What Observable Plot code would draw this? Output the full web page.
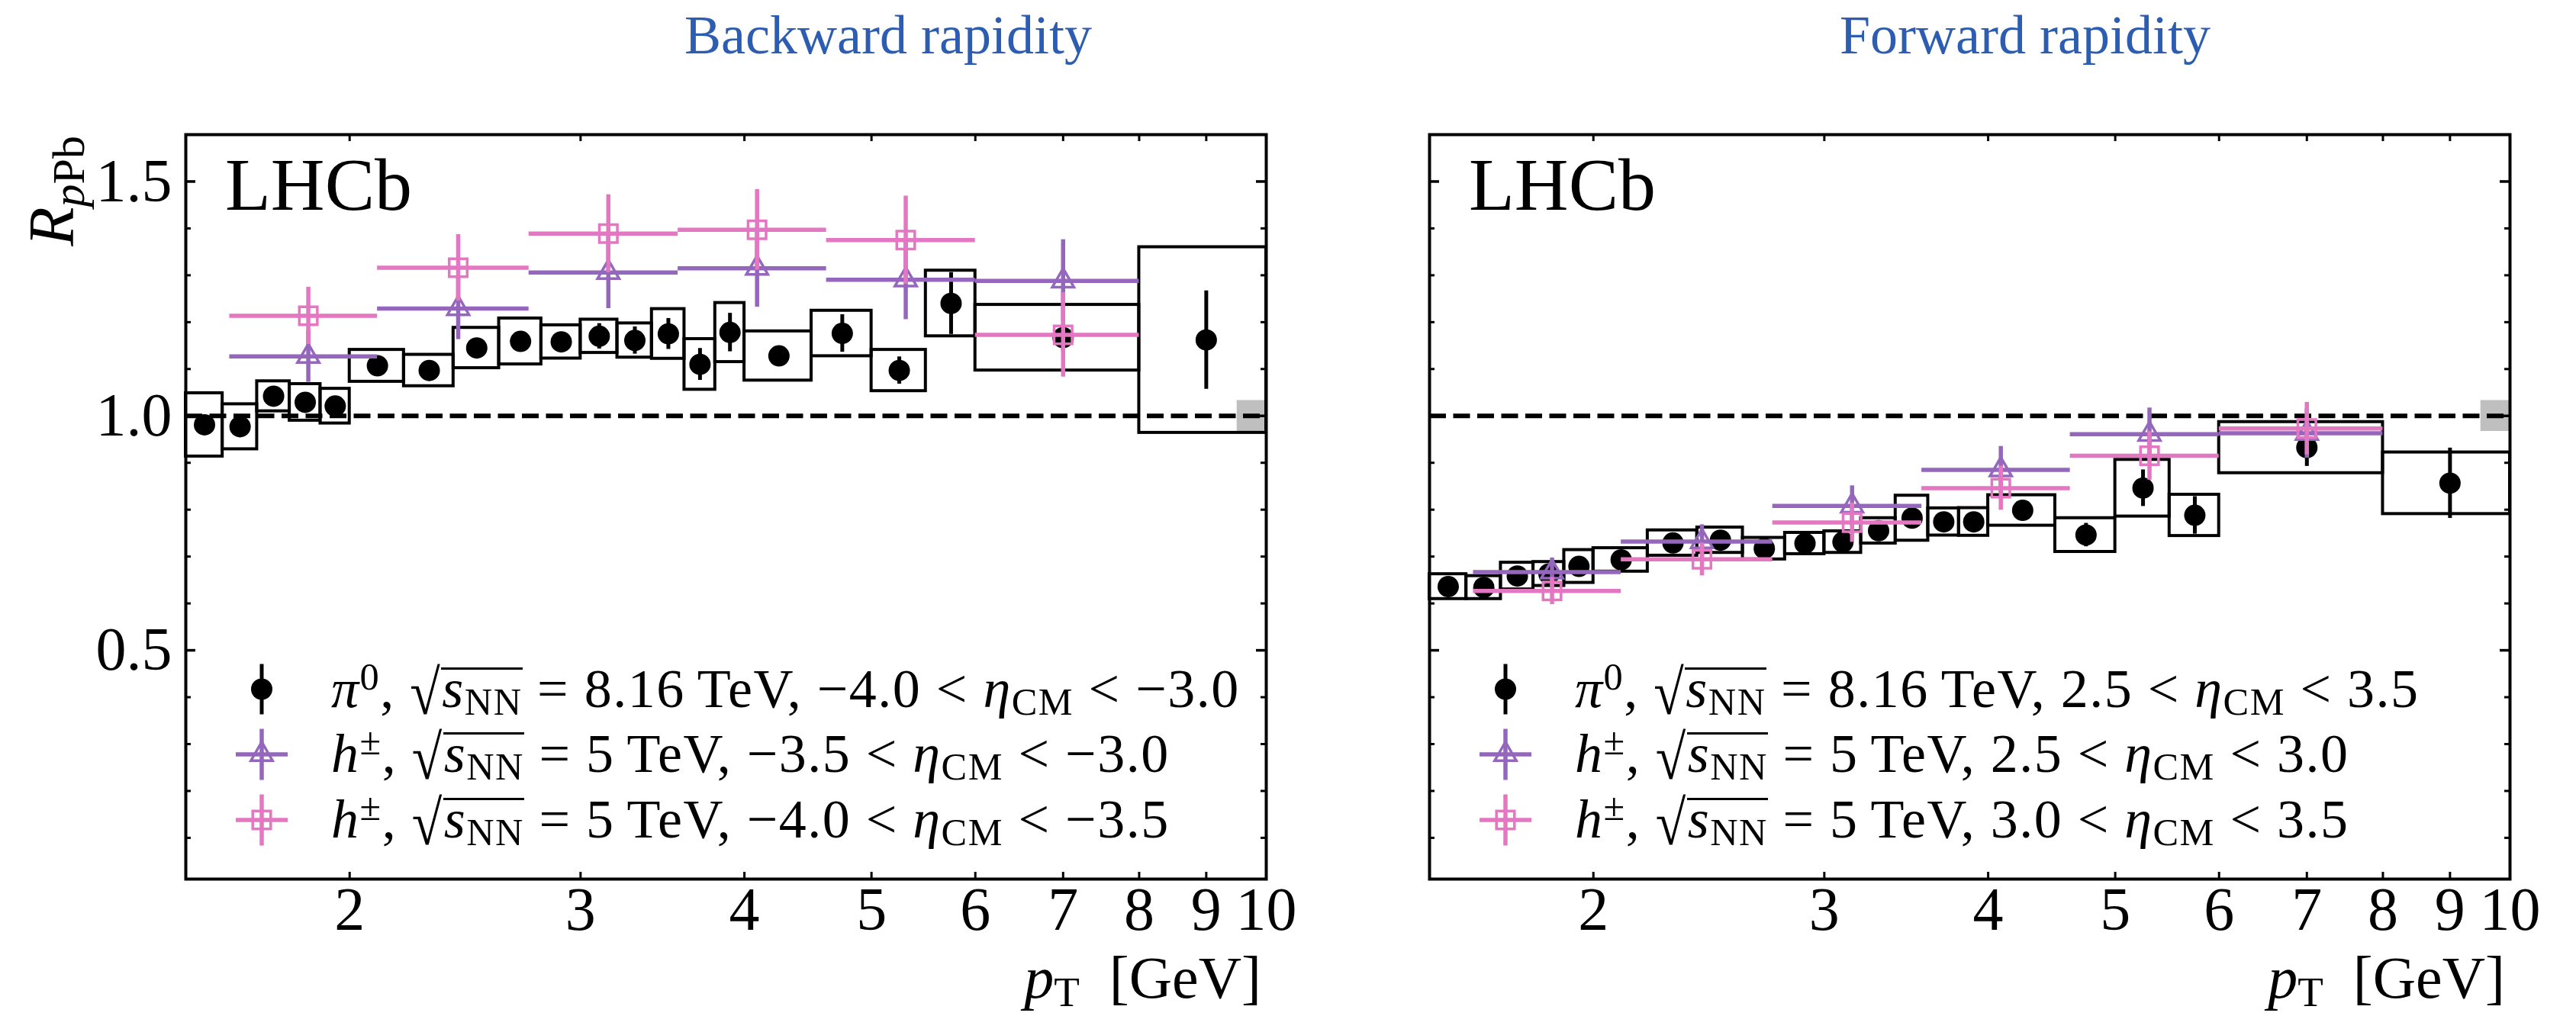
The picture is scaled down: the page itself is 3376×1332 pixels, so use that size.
<!DOCTYPE html>
<html><head><meta charset="utf-8">
<script src="https://cdn.jsdelivr.net/npm/d3@7"></script>
<script src="https://cdn.jsdelivr.net/npm/@observablehq/plot@0.6"></script>
<style>
body{margin:0;background:#fff;}
#page{position:relative;width:3376px;height:1332px;overflow:hidden;background:#fff;font-family:"Liberation Serif",serif;}
.leg{position:absolute;font-size:72px;letter-spacing:1.5px;white-space:nowrap;line-height:1;color:#000;font-family:"Liberation Serif",serif;}
.sup{position:relative;top:-0.45em;font-size:0.7em;}
.sub{position:relative;top:0.2em;font-size:0.7em;}
.rad{display:inline-block;transform:scaleY(1.15) translateY(0.06em);}
.ov{display:inline-block;line-height:0.7;border-top:3px solid #000;padding-left:1px;}
</style></head><body><div id="page"></div>
<script>
// ---------------- data ----------------
const pi0Edges = [1.5,1.6,1.7,1.8,1.9,2.0,2.2,2.4,2.6,2.8,3.0,3.2,3.4,3.6,3.8,4.0,4.5,5.0,5.5,6.0,8.0,10.0];
const pi0BackwardValue = [0.981,0.977,1.042,1.029,1.021,1.107,1.097,1.145,1.159,1.158,1.170,1.161,1.175,1.110,1.178,1.128,1.176,1.097,1.240,1.167,1.162];
const pi0BackwardStat  = [0.012,0.012,0.012,0.012,0.012,0.013,0.013,0.014,0.014,0.015,0.027,0.029,0.033,0.034,0.041,0.019,0.040,0.029,0.066,0.030,0.105];
const pi0BackwardSyst  = [0.0675,0.048,0.032,0.039,0.037,0.034,0.0335,0.043,0.049,0.0355,0.0355,0.0365,0.053,0.054,0.063,0.0525,0.0485,0.044,0.070,0.070,0.198];
const pi0ForwardValue = [0.636,0.634,0.6585,0.663,0.679,0.693,0.729,0.735,0.717,0.728,0.731,0.755,0.782,0.774,0.774,0.7985,0.746,0.846,0.788,0.9325,0.8565];
const pi0ForwardStat  = [0.010,0.010,0.010,0.010,0.011,0.011,0.012,0.012,0.012,0.013,0.013,0.014,0.015,0.015,0.016,0.016,0.025,0.039,0.040,0.040,0.075];
const pi0ForwardSyst  = [0.0265,0.0245,0.0285,0.0255,0.035,0.025,0.027,0.027,0.023,0.0227,0.023,0.027,0.048,0.029,0.0295,0.0325,0.036,0.0605,0.044,0.0545,0.0657];

const hEdges = [1.62,2.1,2.74,3.56,4.62,6.0,8.0];
const hBackwardAValue = [1.127,1.229,1.306,1.315,1.2905,1.288];   // -3.5 < eta < -3.0
const hBackwardAErr   = [0.055,0.066,0.077,0.083,0.085,0.088];
const hBackwardBValue = [1.2135,1.316,1.389,1.397,1.375,1.173];   // -4.0 < eta < -3.5
const hBackwardBErr   = [0.061,0.071,0.083,0.086,0.094,0.090];
const hForwardAValue  = [0.667,0.732,0.808,0.885,0.961,0.963];    // 2.5 < eta < 3.0
const hForwardAErr    = [0.030,0.036,0.043,0.050,0.056,0.053];
const hForwardBValue  = [0.6265,0.694,0.7725,0.846,0.915,0.973];  // 3.0 < eta < 3.5
const hForwardBErr    = [0.029,0.035,0.042,0.047,0.052,0.056];

const normBand = [9.5, 10.0];
const normUncertainty = 0.033;

const xTickValues = [2,3,4,5,6,7,8,9,10];
const yTickLabels = [0.5,1.0,1.5];
const yMinorTicks = [0.1,0.2,0.3,0.4,0.6,0.7,0.8,0.9,1.1,1.2,1.3,1.4];

const titles = ["Backward rapidity","Forward rapidity"];
const legendParticles = [["π","0"],["h","±"],["h","±"]];
const legendEnergies = ["8.16","5","5"];
const legendEtaBackward = [["−4.0","−3.0"],["−3.5","−3.0"],["−4.0","−3.5"]];
const legendEtaForward  = [["2.5","3.5"],["2.5","3.0"],["3.0","3.5"]];

// ---------------- tables ----------------
const pi0Table = (vals, stat, syst) => vals.map((v,i)=>({lo:pi0Edges[i], hi:pi0Edges[i+1], x:(pi0Edges[i]+pi0Edges[i+1])/2, v, stat:stat[i], syst:syst[i]}));
const hTable = (vals, err) => vals.map((v,i)=>({lo:hEdges[i], hi:hEdges[i+1], x:(hEdges[i]+hEdges[i+1])/2, v, err:err[i]}));
const normTable = [{lo:normBand[0], hi:normBand[1], u:normUncertainty}];

const PURPLE = "#9467bd", PINK = "#e377c2", TITLE = "#2d5db0";
const H = 1332, MT = 176, MB = 180;

function hMarks(data, color, symbol, r){
  return [
    Plot.ruleY(data, {y:"v", x1:"lo", x2:"hi", stroke:color, strokeWidth:5.5}),
    Plot.ruleX(data, {x:"x", y1:d=>d.v-d.err, y2:d=>d.v+d.err, stroke:color, strokeWidth:5.5}),
    Plot.dot(data, {x:"x", y:"v", symbol, r, fill:"none", stroke:color, strokeWidth:3.5})
  ];
}

function panel(cfg){
  const frameW = cfg.width - cfg.ml - cfg.mr, frameH = H - MT - MB;
  const pi0 = cfg.pi0;
  return Plot.plot({
    width: cfg.width, height: H,
    marginLeft: cfg.ml, marginRight: cfg.mr, marginTop: MT, marginBottom: MB,
    x: {type:"log", domain:[1.5,10]},
    y: {domain:[0.012,1.6], axis: cfg.showY ? undefined : null},
    style: {fontFamily:"Liberation Serif, serif", color:"black", background:"transparent", overflow:"visible"},
    marks: [
      Plot.rect(normTable, {x1:"lo", x2:"hi", y1:d=>1-d.u, y2:d=>1+d.u, fill:"#bfbfbf"}),
      Plot.ruleY([1], {stroke:"black", strokeWidth:6, strokeDasharray:"22,9.5"}),
      Plot.rect(pi0, {x1:"lo", x2:"hi", y1:d=>d.v-d.syst, y2:d=>d.v+d.syst, fill:"none", stroke:"black", strokeWidth:4}),
      Plot.ruleX(pi0, {x:"x", y1:d=>d.v-d.stat, y2:d=>d.v+d.stat, stroke:"black", strokeWidth:5}),
      Plot.dot(pi0, {x:"x", y:"v", r:14, fill:"black"}),
      ...hMarks(cfg.hA, PURPLE, "triangle", 10.5),
      ...hMarks(cfg.hB, PINK, "square", 13.3),
      Plot.ruleX(xTickValues, {x:d=>d, insetTop:frameH-9, stroke:"black", strokeWidth:3}),
      Plot.ruleX(xTickValues, {x:d=>d, insetBottom:frameH-9, stroke:"black", strokeWidth:3}),
      Plot.ruleY(yMinorTicks, {y:d=>d, insetRight:frameW-7, stroke:"black", strokeWidth:3}),
      Plot.ruleY(yMinorTicks, {y:d=>d, insetLeft:frameW-7, stroke:"black", strokeWidth:3}),
      Plot.ruleY(yTickLabels, {y:d=>d, insetRight:frameW-13, stroke:"black", strokeWidth:3.5}),
      Plot.ruleY(yTickLabels, {y:d=>d, insetLeft:frameW-13, stroke:"black", strokeWidth:3.5}),
      Plot.frame({stroke:"black", strokeWidth:4}),
      Plot.axisX({ticks:xTickValues, tickFormat:d=>String(d), tickSize:0, tickPadding:10, fontSize:80, label:null}),
      cfg.showY ? Plot.axisY({ticks:yTickLabels, tickFormat:d3.format(".1f"), tickSize:0, tickPadding:18, fontSize:80, label:null}) : null
    ]
  });
}

const panels = [
  {left:0, width:1700, ml:243, mr:41, showY:true, title:titles[0], titleX:1164, legendEta:legendEtaBackward,
   pi0:pi0Table(pi0BackwardValue,pi0BackwardStat,pi0BackwardSyst), hA:hTable(hBackwardAValue,hBackwardAErr), hB:hTable(hBackwardBValue,hBackwardBErr)},
  {left:1700, width:1676, ml:173, mr:87, showY:false, title:titles[1], titleX:2654, legendEta:legendEtaForward,
   pi0:pi0Table(pi0ForwardValue,pi0ForwardStat,pi0ForwardSyst), hA:hTable(hForwardAValue,hForwardAErr), hB:hTable(hForwardBValue,hForwardBErr)}
];

const page = document.getElementById("page");
const overlay = d3.create("svg").attr("width",3376).attr("height",H)
  .style("position","absolute").style("left","0px").style("top","0px").style("pointer-events","none")
  .attr("font-family","Liberation Serif, serif");

panels.forEach((cfg, pi) => {
  const chart = panel(cfg);
  const wrap = document.createElement("div");
  wrap.style.position = "absolute"; wrap.style.left = cfg.left+"px"; wrap.style.top = "0px";
  wrap.appendChild(chart);
  page.appendChild(wrap);

  const fl = cfg.left + cfg.ml, fr = cfg.left + cfg.width - cfg.mr;
  // title
  overlay.append("text").attr("x", cfg.titleX).attr("y", 70).attr("text-anchor","middle")
    .attr("font-size",72).attr("fill",TITLE).text(cfg.title);
  // LHCb
  overlay.append("text").attr("x", fl+52).attr("y", 275).attr("font-size",98).attr("fill","black").text("LHCb");
  // x label
  const xl = overlay.append("text").attr("x", fr-6).attr("y", 1308).attr("text-anchor","end").attr("font-size",78);
  xl.append("tspan").attr("font-style","italic").text("p");
  xl.append("tspan").attr("font-size",55).attr("dy",11).text("T");
  xl.append("tspan").attr("dy",-11).text("\u2002[GeV]");
  // y label
  if (cfg.showY){
    const yl = overlay.append("text").attr("transform","translate(96,178) rotate(-90)").attr("text-anchor","end").attr("font-size",84);
    yl.append("tspan").attr("font-style","italic").text("R");
    yl.append("tspan").attr("font-size",60).attr("dy",14).attr("font-style","italic").text("p");
    yl.append("tspan").attr("font-size",60).text("Pb");
  }
  // legend
  const rowsY = [903.5, 989, 1075];
  const mx = fl + 100;
  const colors = ["black", PURPLE, PINK];
  rowsY.forEach((ry, k) => {
    const g = overlay.append("g").attr("transform",`translate(${mx},${ry})`);
    if (k === 0){
      g.append("line").attr("y1",-33).attr("y2",33).attr("stroke","black").attr("stroke-width",5);
      g.append("circle").attr("r",14).attr("fill","black");
    } else {
      g.append("line").attr("x1",-34).attr("x2",34).attr("stroke",colors[k]).attr("stroke-width",5.5);
      g.append("line").attr("y1",-33.5).attr("y2",33.5).attr("stroke",colors[k]).attr("stroke-width",5.5);
      const r = k===1 ? 10.5 : 13.3;
      const type = k===1 ? d3.symbolTriangle : d3.symbolSquare;
      g.append("path").attr("d", d3.symbol().type(type).size(Math.PI*r*r)()).attr("fill","none").attr("stroke",colors[k]).attr("stroke-width",3.5);
    }
    const [p, c] = legendParticles[k];
    const [lo, hi] = cfg.legendEta[k];
    const div = document.createElement("div");
    div.className = "leg";
    div.style.left = (fl + 191) + "px";
    div.style.top = (ry - 37) + "px";
    const sp = "\u2005";
    div.innerHTML = `<i>${p}</i><span class="sup">${c}</span>, <span class="rad">√</span><span class="ov"><i>s</i><span class="sub">NN</span></span>${sp}=${sp}${legendEnergies[k]}\u2009TeV, ${lo}${sp}&lt;${sp}<i>η</i><span class="sub">CM</span>${sp}&lt;${sp}${hi}`;
    page.appendChild(div);
  });
});
page.appendChild(overlay.node());
</script></body></html>
